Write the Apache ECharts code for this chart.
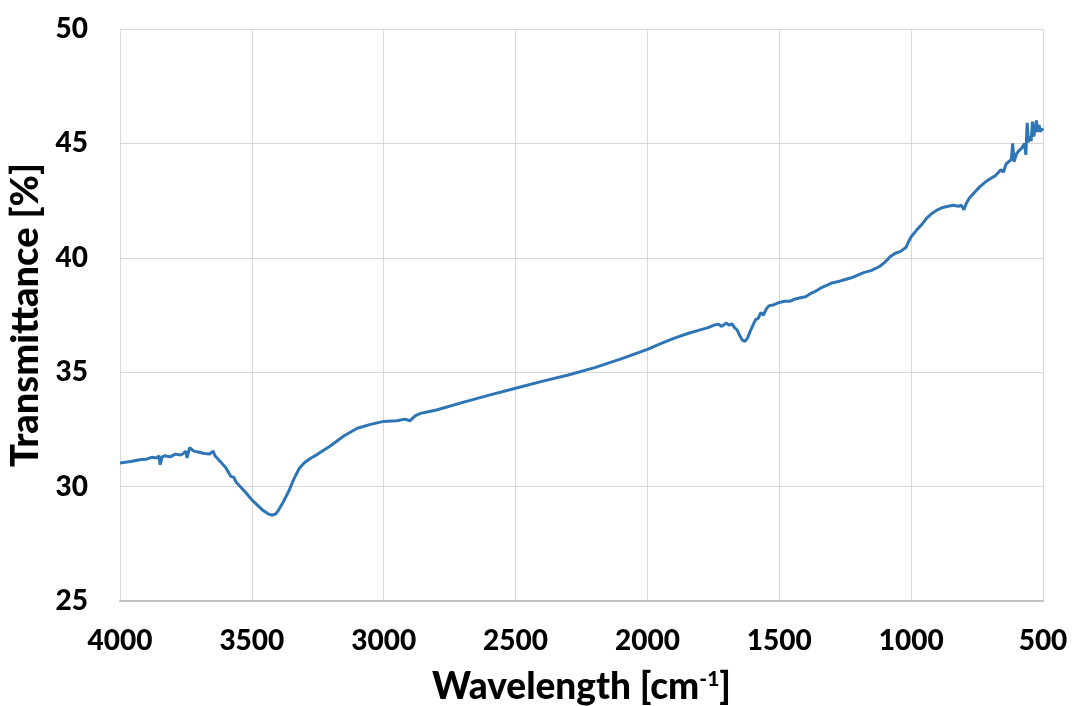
<!DOCTYPE html>
<html><head><meta charset="utf-8">
<script src="https://cdn.jsdelivr.net/npm/echarts@6/dist/echarts.min.js"></script>
<style>html,body{margin:0;padding:0;background:#fff}#c{width:1075px;height:706px}</style>
</head><body><div id="c"></div>
<script>
const wavenumbers = [4000,3960,3920,3900,3880,3860,3852,3848,3840,3830,3810,3790,3770,3760,3750,3746,3736,3720,3700,3680,3660,3647,3640,3620,3600,3580,3568,3560,3540,3520,3500,3480,3460,3440,3425,3410,3400,3380,3360,3340,3320,3300,3275,3250,3200,3150,3100,3050,3000,2950,2920,2900,2880,2860,2840,2800,2700,2600,2500,2400,2300,2200,2100,2000,1950,1900,1850,1800,1770,1750,1730,1720,1700,1690,1680,1670,1660,1650,1640,1630,1620,1610,1600,1590,1580,1570,1560,1550,1540,1520,1500,1480,1460,1440,1420,1400,1380,1360,1340,1320,1300,1280,1250,1220,1200,1180,1150,1120,1100,1080,1060,1040,1020,1010,1000,980,960,940,920,900,880,860,840,820,810,800,790,780,760,740,720,700,680,660,650,640,620,615,610,600,590,580,570,565,560,555,550,545,540,535,530,525,520,515,510,505,500];
const transmittance = [31.03,31.1,31.18,31.2,31.28,31.25,31.35,30.95,31.3,31.35,31.3,31.42,31.38,31.45,31.55,31.25,31.7,31.55,31.5,31.45,31.42,31.55,31.35,31.1,30.85,30.45,30.4,30.2,29.95,29.7,29.42,29.2,28.98,28.82,28.75,28.8,28.95,29.35,29.8,30.35,30.8,31.05,31.25,31.42,31.8,32.22,32.55,32.72,32.85,32.88,32.95,32.88,33.1,33.2,33.25,33.35,33.68,34.0,34.3,34.6,34.88,35.2,35.58,36.0,36.25,36.48,36.68,36.85,36.95,37.05,37.1,37.0,37.15,37.05,37.12,36.95,36.85,36.6,36.4,36.35,36.5,36.8,37.05,37.3,37.35,37.6,37.5,37.75,37.9,37.95,38.05,38.1,38.1,38.2,38.25,38.3,38.45,38.55,38.7,38.8,38.9,38.95,39.05,39.15,39.25,39.35,39.45,39.62,39.8,40.05,40.2,40.28,40.45,40.7,40.92,41.2,41.45,41.75,41.95,42.1,42.2,42.25,42.3,42.25,42.3,42.1,42.4,42.6,42.85,43.1,43.3,43.45,43.6,43.85,43.75,44.1,44.3,45.0,44.2,44.55,44.7,44.8,45.0,44.5,45.9,45.05,45.3,45.1,45.95,45.3,45.6,46.0,45.5,45.8,45.5,45.65,45.55];
const yTicks = [25,30,35,40,45,50];
const xTicks = [4000,3500,3000,2500,2000,1500,1000,500];

const chart = echarts.init(document.getElementById('c'));
const FONT = 'Lato';
const W = 900;
chart.setOption({
  animation:false,
  backgroundColor:'#fff',
  grid:{left:120,right:32,top:29,bottom:105,outerBoundsMode:'none',containLabel:false},
  xAxis:{
    type:'value', inverse:true, min:500, max:4000, interval:500,
    name:'{a|Wavelength [cm}{s|-1}{a|]}', nameLocation:'middle', nameGap:68,
    nameTextStyle:{rich:{a:{fontFamily:FONT,fontWeight:W,fontSize:37,color:'#000',verticalAlign:'bottom'},s:{fontFamily:FONT,fontWeight:W,fontSize:21,color:'#000',verticalAlign:'top',padding:[0,0,16,0]}}},
    axisLine:{show:true,lineStyle:{color:'#bfbfbf',width:2}},
    axisTick:{show:false},
    axisLabel:{fontFamily:FONT,fontWeight:W,fontSize:28,color:'#000',margin:26,formatter:v=>String(v)},
    splitLine:{show:true,lineStyle:{color:'#d9d9d9',width:1}}
  },
  yAxis:{
    type:'value', min:25, max:50, interval:5,
    name:'Transmittance [%]', nameLocation:'middle', nameGap:69, nameRotate:90,
    nameTextStyle:{fontFamily:FONT,fontWeight:W,fontSize:38,color:'#000'},
    axisLine:{show:false},
    axisTick:{show:false},
    axisLabel:{fontFamily:FONT,fontWeight:W,fontSize:28,color:'#000',margin:32,formatter:v=>String(v)},
    splitLine:{show:true,lineStyle:{color:'#d9d9d9',width:1}}
  },
  series:[{
    type:'line', showSymbol:false, symbol:'none',
    data: wavenumbers.map((w,i)=>[w,transmittance[i]]),
    lineStyle:{color:'#2e75b6',width:3},
    z:3
  }]
});
</script></body></html>
